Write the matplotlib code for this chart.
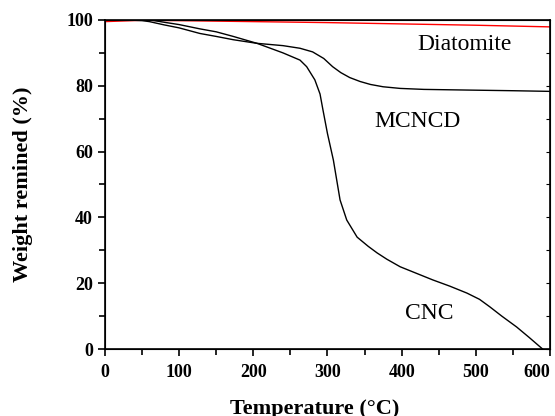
import numpy as np
from matplotlib import pyplot as plt
from matplotlib.ticker import MultipleLocator

plt.rcParams['font.family'] = ['Liberation Serif', 'DejaVu Serif']

# TGA curves
t_dia = [0, 50, 100, 200, 300, 400, 500, 600]
w_dia = [99.5, 99.9, 99.8, 99.5, 99.2, 98.8, 98.4, 97.9]

t_mcncd = [0, 30, 50, 60, 80, 100, 128, 150, 173, 205, 240, 263, 280, 295, 307,
           318, 330, 344, 358, 375, 398, 430, 488, 550, 600]
w_mcncd = [100, 100, 99.8, 99.5, 98.5, 97.6, 95.9, 95.0, 94.0, 92.9, 92.2, 91.4,
           90.3, 88.3, 85.8, 84.0, 82.5, 81.3, 80.4, 79.7, 79.2, 78.9, 78.7, 78.5, 78.3]

t_cnc = [0, 30, 50, 61, 80, 100, 128, 150, 173, 205, 240, 263, 272, 283, 290, 294,
         300, 308, 317, 326, 340, 355, 367, 380, 398, 420, 442, 465, 488, 505,
         519, 535, 555, 572, 590]
w_cnc = [100, 100, 100, 100, 99.3, 98.6, 97.3, 96.4, 95.0, 92.9, 90.0, 87.8,
         85.8, 81.8, 77.5, 72.6, 65.5, 57.4, 45.3, 39.2, 34.0, 31.2, 29.2, 27.3,
         25.0, 23.0, 21.0, 19.1, 17.0, 15.1, 12.8, 10.0, 6.7, 3.5, 0.0]

fig = plt.figure(figsize=(5.55, 4.16), dpi=100)
ax = fig.add_axes([0.189, 0.161, 0.802, 0.791])

ax.plot(t_dia, w_dia, color='red', lw=1.0)
ax.plot(t_mcncd, w_mcncd, color='black', lw=1.0)
ax.plot(t_cnc, w_cnc, color='black', lw=1.0)

ax.text(485, 92.5, 'Diatomite', fontsize=17, ha='center', va='center')
ax.text(422, 69, 'MCNCD', fontsize=17, ha='center', va='center')
ax.text(437, 10.8, 'CNC', fontsize=17, ha='center', va='center')

ax.set_xlim(0, 600)
ax.set_ylim(0, 100)
ax.xaxis.set_major_locator(MultipleLocator(100))
ax.xaxis.set_minor_locator(MultipleLocator(50))
ax.yaxis.set_major_locator(MultipleLocator(20))
ax.yaxis.set_minor_locator(MultipleLocator(10))
ax.tick_params(which='both', direction='out', width=1.2)
ax.tick_params(which='major', length=5, labelsize=13)
ax.tick_params(which='minor', length=4)
ax.tick_params(axis='x', pad=6)

ax2 = ax.twinx()
ax2.set_ylim(0, 100)
ax2.yaxis.set_major_locator(MultipleLocator(10))
ax2.tick_params(direction='in', length=3, labelright=False)

for s in ax.spines.values():
    s.set_linewidth(1.2)

ax.set_xlabel('Temperature (°C)', fontsize=16, fontweight='bold')
ax.set_ylabel('Weight remined (%)', fontsize=16, fontweight='bold')
ax.xaxis.set_label_coords(0.472, -0.153)
ax.yaxis.set_label_coords(-0.162, 0.5)

fig.canvas.draw()
for lab in ax.get_xticklabels() + ax.get_yticklabels():
    lab.set_fontweight('bold')
    if lab.get_text() == '600':
        lab.set_horizontalalignment('right')
        lab.set_x(602)

fig.savefig('out.png', dpi=100)
